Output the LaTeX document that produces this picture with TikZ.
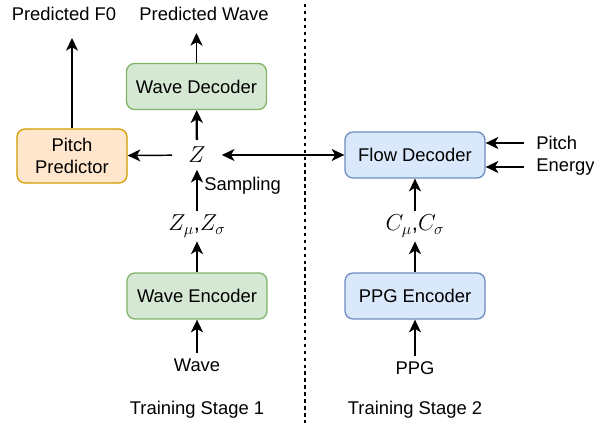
\documentclass[tikz,border=0pt]{standalone}
\usepackage{fontspec}
\setmainfont{Liberation Sans}
\usetikzlibrary{arrows.meta}

\definecolor{grnfill}{RGB}{213,232,212}
\definecolor{grnline}{RGB}{130,179,102}
\definecolor{orgfill}{RGB}{255,230,204}
\definecolor{orgline}{RGB}{215,155,0}
\definecolor{blufill}{RGB}{218,232,252}
\definecolor{bluline}{RGB}{108,142,191}

\tikzset{
  lbl/.style={inner sep=0.75pt, font=\fontsize{13.8}{16}\selectfont},
  mlbl/.style={inner sep=0.75pt, font=\fontsize{16.5}{19}\selectfont},
  blk/.style={draw, rounded corners=6, line width=1pt, align=center,
    minimum width=105pt, minimum height=34.5pt, font=\fontsize{13.8}{16}\selectfont},
  greenblk/.style={blk, fill=grnfill, draw=grnline},
  orangeblk/.style={blk, fill=orgfill, draw=orgline, minimum width=82.5pt, minimum height=40.5pt},
  blueblk/.style={blk, fill=blufill, draw=bluline},
  tip/.tip={Stealth[length=9.5pt,width=9pt,inset=2.6pt]},
  arr/.style={-tip, line width=1.1pt},
  dblarr/.style={tip-tip, line width=1.1pt},
  thickarr/.style={arr, line width=1.7pt},
}

\begin{document}
\begin{tikzpicture}[x=0.75pt,y=0.75pt,yscale=-1,xscale=1]
\useasboundingbox (0,0) rectangle (594,423);

% stage separator
\draw [line width=0.9pt, dash pattern=on 2.6pt off 2.6pt] (305,4) -- (305,423);

% blocks
\node [greenblk]  (wdec) at (196.5,86.5) {Wave Decoder};
\node [greenblk]  (wenc) at (197,296) {Wave Encoder};
\node [orangeblk] (pitchpred) at (72,156) {Pitch\\Predictor};
\node [blueblk]   (fdec) at (415,155) {Flow Decoder};
\node [blueblk]   (penc) at (415,296) {PPG Encoder};

% text nodes
\node [mlbl, inner xsep=12pt, inner ysep=5pt] (z) at (197,155) {$Z$};
\node [mlbl, inner ysep=3pt] (zms) at (197,226) {$Z_\mu$,$Z_\sigma$};
\node [mlbl, inner ysep=3pt] (cms) at (415,226) {$C_\mu$,$C_\sigma$};
\node [lbl] (predf0) at (64,14) {Predicted F0};
\node [lbl] (predwave) at (204,14) {Predicted Wave};
\node [lbl, inner ysep=4pt] (wave) at (197,365) {Wave};
\node [lbl, inner ysep=4pt] (ppg) at (415,368) {PPG};
\node [lbl] (stage1) at (197,410) {Training Stage 1};
\node [lbl] (stage2) at (415,410) {Training Stage 2};
\node [lbl, anchor=west] (pitch) at (535,143) {Pitch};
\node [lbl, anchor=west] (energy) at (535,167) {Energy};
\node [lbl, anchor=west] (sampling) at (203,186) {Sampling};

% output ends
\coordinate (f0end) at (72,38);
\coordinate (waveend) at (196.5,33);

% stage 1
\draw [thickarr] (wave) -- (wenc);
\draw [arr] (wenc) -- (zms);
\draw [thickarr] (zms) -- (z);
\draw [thickarr] (z) -- (wdec);
\draw [arr] (wdec) -- (waveend);
\draw [arr] (z) -- (pitchpred);
\draw [arr] (pitchpred.north -| f0end) -- (f0end);

% stage 2
\draw [arr] (ppg) -- (penc);
\draw [arr] (penc) -- (cms);
\draw [arr] (cms) -- (fdec);
\draw [dblarr] (z) -- (fdec);
\draw [arr] ([xshift=-8pt]pitch.west) -- (pitch.west -| fdec.east);
\draw [arr] ([xshift=-8pt]energy.west) -- (energy.west -| fdec.east);

\end{tikzpicture}
\end{document}
